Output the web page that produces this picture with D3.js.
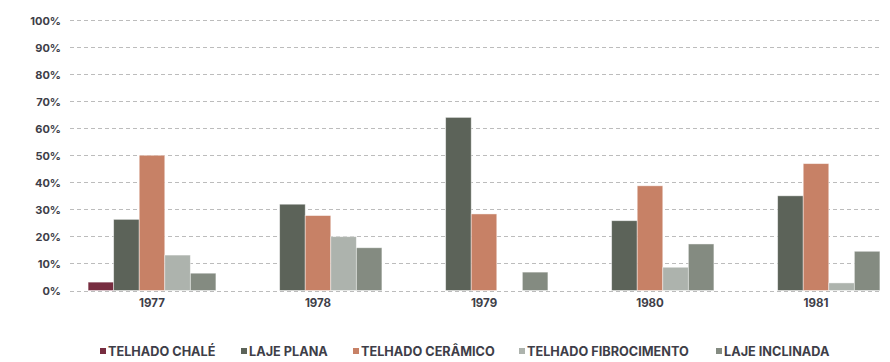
<!DOCTYPE html>
<html>
<head>
<meta charset="utf-8">
<script src="https://cdn.jsdelivr.net/npm/d3@7"></script>
<style>
  html, body { margin: 0; padding: 0; background: #ffffff; }
  svg { display: block; }
  text { font-family: "Inter", "Lato", sans-serif; font-weight: 700; fill: #3e3e48; }
</style>
</head>
<body>
<svg id="chart" width="890" height="362"></svg>
<script>
// Roof types by year (share of buildings, %)
const years = ["1977", "1978", "1979", "1980", "1981"];
const seriesNames = ["TELHADO CHALÉ", "LAJE PLANA", "TELHADO CERÂMICO", "TELHADO FIBROCIMENTO", "LAJE INCLINADA"];
const seriesColors = ["#772d40", "#5c6359", "#c78166", "#adb3ad", "#848b81"];
const telhadoChale = [3.1, 0, 0, 0, 0];
const lajePlana = [26.3, 31.9, 64.0, 25.8, 35.0];
const telhadoCeramico = [50.0, 27.7, 28.3, 38.7, 46.9];
const telhadoFibrocimento = [13.1, 19.9, 0, 8.6, 2.8];
const lajeInclinada = [6.4, 15.8, 6.8, 17.2, 14.5];
const yTicks = [0, 10, 20, 30, 40, 50, 60, 70, 80, 90, 100];

const seriesValues = [telhadoChale, lajePlana, telhadoCeramico, telhadoFibrocimento, lajeInclinada];

const svg = d3.select("#chart");

const x0 = d3.scaleBand().domain(years).range([69, 899]).paddingInner(0.23).paddingOuter(0.115);
const x1 = d3.scaleBand().domain(d3.range(seriesNames.length)).range([0, x0.bandwidth()]).padding(0);
const y = d3.scaleLinear().domain([0, 100]).range([290.5, 20]);

// Dashed horizontal grid
svg.append("g")
  .selectAll("line")
  .data(yTicks)
  .join("line")
  .attr("x1", 70).attr("x2", 882)
  .attr("y1", d => Math.round(y(d)) + 0.5)
  .attr("y2", d => Math.round(y(d)) + 0.5)
  .attr("stroke", "#bcbcbc")
  .attr("stroke-width", 1)
  .attr("stroke-dasharray", "4,3");

// Y axis labels
const yAxis = d3.axisLeft(y).tickValues(yTicks).tickFormat(d => d + "%").tickSize(0).tickPadding(0);
const gy = svg.append("g").attr("transform", "translate(61,0.5)").call(yAxis);
gy.select(".domain").remove();
gy.selectAll("text").attr("font-size", 11).attr("font-family", "Inter, Lato, sans-serif").attr("font-weight", 700).attr("fill", "#474752");

// Bars
const groups = svg.append("g")
  .selectAll("g")
  .data(years)
  .join("g")
  .attr("transform", d => `translate(${x0(d)},0)`);

groups.selectAll("rect")
  .data((yr, i) => seriesValues.map((vals, s) => ({ s, v: vals[i] })).filter(d => d.v > 0))
  .join("rect")
  .attr("x", d => x1(d.s))
  .attr("width", x1.bandwidth())
  .attr("y", d => y(d.v))
  .attr("height", d => y(0) - y(d.v))
  .attr("fill", d => seriesColors[d.s])
  .attr("stroke", "#ffffff")
  .attr("stroke-opacity", 0.55)
  .attr("stroke-width", 0.8);

// X axis labels
const xAxis = d3.axisBottom(x0).tickSize(0).tickPadding(0);
const gx = svg.append("g").attr("transform", "translate(0,298.5)").call(xAxis);
gx.select(".domain").remove();
gx.selectAll("text").attr("font-size", 11.5).attr("font-family", "Inter, Lato, sans-serif").attr("font-weight", 700).attr("fill", "#3e3e48");

// Legend
const legendX = [100, 241, 353, 519, 716];
const legend = svg.append("g")
  .selectAll("g")
  .data(seriesNames)
  .join("g")
  .attr("transform", (d, i) => `translate(${legendX[i]},353)`);
legend.append("rect")
  .attr("x", 0).attr("y", -5)
  .attr("width", 6).attr("height", 6)
  .attr("fill", (d, i) => seriesColors[i]);
legend.append("text")
  .attr("x", 8).attr("y", 0)
  .attr("dominant-baseline", "middle")
  .attr("font-size", 12.7)
  .text(d => d);
</script>
</body>
</html>
